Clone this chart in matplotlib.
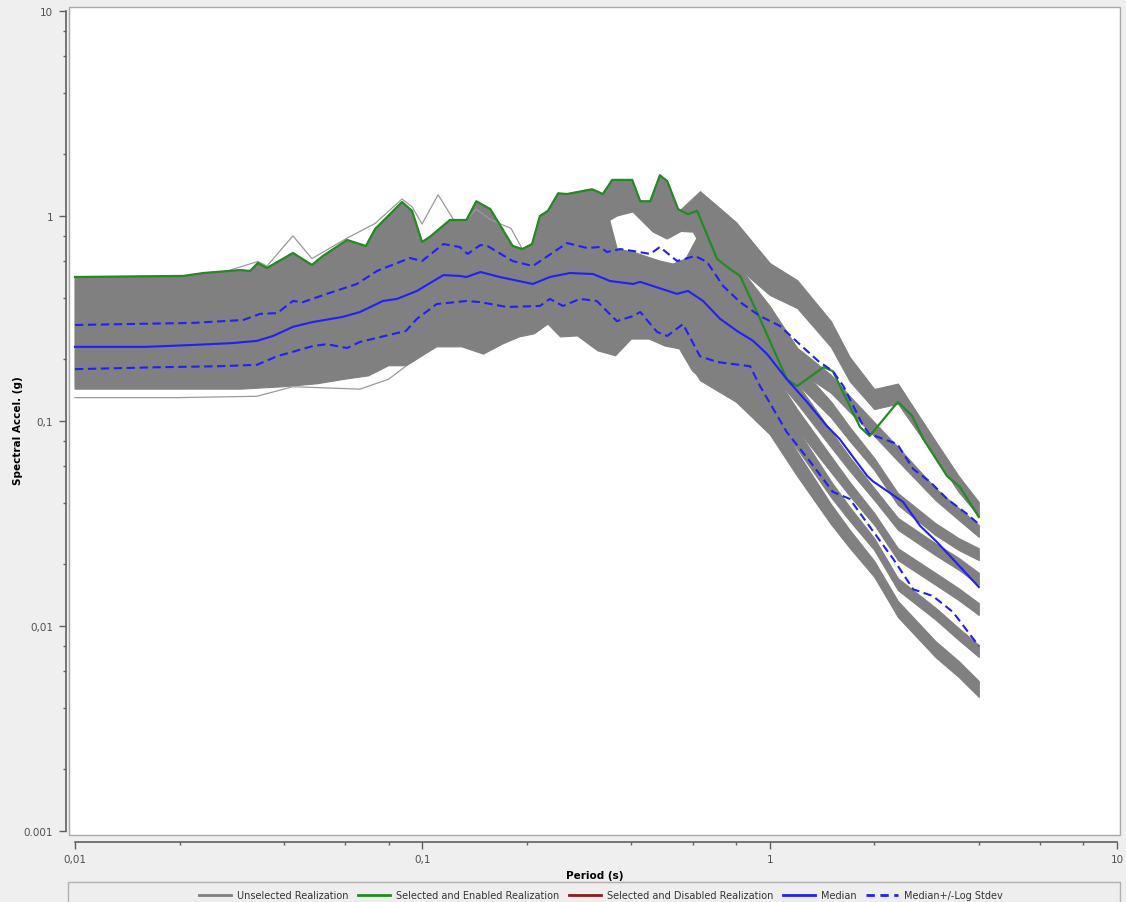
import numpy as np
import matplotlib
matplotlib.use('Agg')
import matplotlib.pyplot as plt
from matplotlib.patches import Rectangle
from matplotlib.lines import Line2D
from matplotlib.ticker import FixedLocator, FixedFormatter, NullFormatter

plt.rcParams['font.family'] = ['DejaVu Sans']

# --- selected realization (green) ---
green_T = [0.01, 0.0205, 0.0234, 0.0299, 0.0319, 0.0336, 0.0357, 0.0424, 0.0481, 0.0517,
           0.0607, 0.0688, 0.0731, 0.0874, 0.0934, 0.0998, 0.105, 0.120, 0.134, 0.143,
           0.157, 0.182, 0.194, 0.207, 0.218, 0.230, 0.246, 0.261, 0.308, 0.331,
           0.352, 0.402, 0.424, 0.453, 0.483, 0.507, 0.545, 0.582, 0.618, 0.706,
           0.769, 0.822, 0.938, 1.12, 1.20, 1.43, 1.52, 1.82, 1.94, 2.34,
           2.57, 2.77, 3.24, 3.53, 4.0]
green_SA = [0.504, 0.510, 0.527, 0.545, 0.539, 0.590, 0.558, 0.660, 0.577, 0.638,
            0.764, 0.714, 0.864, 1.17, 1.06, 0.747, 0.790, 0.956, 0.956, 1.18,
            1.08, 0.714, 0.690, 0.730, 1.0, 1.06, 1.29, 1.28, 1.35, 1.28,
            1.50, 1.50, 1.18, 1.18, 1.58, 1.48, 1.08, 1.02, 1.06, 0.617,
            0.551, 0.510, 0.315, 0.160, 0.148, 0.183, 0.175, 0.0935, 0.0845, 0.124,
            0.106, 0.0816, 0.0539, 0.0477, 0.0340]

# --- median ---
med_T = [0.01, 0.0161, 0.0219, 0.0285, 0.0334, 0.0372, 0.0424, 0.0484, 0.0590, 0.0661,
         0.0770, 0.0845, 0.0965, 0.115, 0.128, 0.134, 0.147, 0.167, 0.208, 0.233,
         0.266, 0.310, 0.347, 0.404, 0.424, 0.541, 0.582, 0.643, 0.720, 0.805,
         0.896, 0.983, 1.12, 1.28, 1.46, 1.59, 1.91, 1.98, 2.42, 2.71,
         3.03, 3.31, 4.0]
med_SA = [0.230, 0.230, 0.235, 0.240, 0.246, 0.260, 0.288, 0.304, 0.322, 0.340,
          0.385, 0.394, 0.431, 0.515, 0.510, 0.504, 0.533, 0.504, 0.466, 0.504,
          0.527, 0.521, 0.482, 0.466, 0.477, 0.417, 0.431, 0.385, 0.315, 0.275,
          0.246, 0.212, 0.160, 0.124, 0.0947, 0.0817, 0.0539, 0.0509, 0.0403, 0.0308,
          0.0257, 0.0219, 0.0155]

# --- median + log stdev ---
up_T = [0.01, 0.0219, 0.0305, 0.0341, 0.0382, 0.0424, 0.0453, 0.0531, 0.0648, 0.0740,
        0.0921, 0.0998, 0.115, 0.128, 0.135, 0.147, 0.154, 0.182, 0.208, 0.261,
        0.298, 0.325, 0.340, 0.371, 0.404, 0.453, 0.483, 0.541, 0.610, 0.660,
        0.734, 0.822, 0.938, 1.07, 1.20, 1.38, 1.52, 1.63, 1.86, 1.94,
        2.33, 2.59, 2.90, 3.24, 3.70, 4.0]
up_SA = [0.294, 0.301, 0.311, 0.333, 0.336, 0.385, 0.380, 0.417, 0.466, 0.539,
         0.624, 0.603, 0.730, 0.706, 0.653, 0.722, 0.714, 0.603, 0.570, 0.738,
         0.698, 0.706, 0.667, 0.690, 0.675, 0.653, 0.706, 0.603, 0.638, 0.597,
         0.456, 0.380, 0.325, 0.291, 0.243, 0.196, 0.175, 0.148, 0.0946, 0.0864,
         0.0772, 0.0583, 0.0504, 0.0417, 0.0352, 0.0314]

# --- median - log stdev ---
lo_T = [0.01, 0.0176, 0.0261, 0.0334, 0.0382, 0.0484, 0.0531, 0.0607, 0.0661, 0.0897,
        0.0965, 0.110, 0.134, 0.147, 0.175, 0.218, 0.233, 0.254, 0.284, 0.318,
        0.363, 0.404, 0.424, 0.474, 0.507, 0.563, 0.630, 0.706, 0.878, 0.938,
        1.12, 1.31, 1.52, 1.70, 1.99, 2.27, 2.59, 2.95, 3.37, 4.0]
lo_SA = [0.179, 0.183, 0.185, 0.188, 0.207, 0.232, 0.237, 0.227, 0.243, 0.275,
         0.315, 0.372, 0.385, 0.380, 0.360, 0.364, 0.394, 0.364, 0.394, 0.385,
         0.307, 0.325, 0.340, 0.272, 0.260, 0.297, 0.207, 0.194, 0.185, 0.148,
         0.0883, 0.0631, 0.0451, 0.0417, 0.0288, 0.0212, 0.0151, 0.0140, 0.0117, 0.00798]

# --- unselected realizations: main cloud lower edge ---
band_T = [0.01, 0.02, 0.03, 0.04, 0.05, 0.06, 0.07, 0.08, 0.09, 0.1,
          0.11, 0.13, 0.15, 0.17, 0.19, 0.21, 0.23, 0.25, 0.28, 0.32,
          0.36, 0.4, 0.45, 0.5, 0.55, 0.6, 0.65, 0.7, 0.75, 0.8]
band_lo = [0.143, 0.143, 0.143, 0.147, 0.152, 0.160, 0.166, 0.186, 0.186, 0.208,
           0.230, 0.230, 0.212, 0.237, 0.257, 0.266, 0.297, 0.257, 0.260, 0.220,
           0.208, 0.251, 0.251, 0.232, 0.225, 0.175, 0.157, 0.145, 0.145, 0.145]

# gap between the upper and the middle group of realizations (0.33-0.8 s)
gap_lo_T = [0.364, 0.404, 0.483, 0.527, 0.602, 0.706, 0.785]
gap_lo_SA = [0.690, 0.667, 0.603, 0.583, 0.638, 0.551, 0.476]
gap_hi_T = [0.325, 0.364, 0.404, 0.462, 0.507, 0.552, 0.589, 0.630, 0.706]
gap_hi_SA = [0.894, 1.0, 1.046, 0.835, 0.772, 0.835, 0.894, 0.730, 0.690]

# long-period bundles of realizations: centre and half spread (decades)
bundle_T = [0.55, 0.63, 0.80, 1.0, 1.2, 1.5, 1.7, 2.0, 2.34, 3.0, 3.5, 4.0]
bundle_1 = [0.950, 1.05, 0.730, 0.493, 0.416, 0.266, 0.179, 0.128, 0.136, 0.073, 0.0493, 0.0372]
bundle_2 = [0.500, 0.690, 0.493, 0.315, 0.201, 0.152, 0.121, 0.0914, 0.069, 0.044, 0.0352, 0.0291]
bundle_3 = [0.420, 0.440, 0.352, 0.251, 0.170, 0.114, 0.0864, 0.0617, 0.0416, 0.0297, 0.0251, 0.0224]
bundle_4 = [0.370, 0.352, 0.281, 0.201, 0.136, 0.0817, 0.0617, 0.044, 0.0315, 0.0237, 0.0201, 0.017]
bundle_5 = [0.320, 0.281, 0.225, 0.160, 0.102, 0.0617, 0.0466, 0.0333, 0.0224, 0.017, 0.0143, 0.0121]
bundle_6 = [0.280, 0.225, 0.179, 0.128, 0.0817, 0.0466, 0.0352, 0.0251, 0.016, 0.0115, 0.00914, 0.00755]
bundle_7 = [0.250, 0.190, 0.152, 0.102, 0.0617, 0.0352, 0.0266, 0.019, 0.0121, 0.00772, 0.00617, 0.00493]
spread_1 = [0.050, 0.100, 0.107, 0.078, 0.068, 0.063, 0.059, 0.049, 0.049, 0.039, 0.039, 0.034]
spread_2 = [0.040, 0.088, 0.078, 0.063, 0.054, 0.044, 0.039, 0.034, 0.034, 0.029, 0.029, 0.029]
spread_3 = [0.040, 0.078, 0.073, 0.059, 0.049, 0.039, 0.034, 0.029, 0.029, 0.029, 0.029, 0.029]
spread_7 = [0.040, 0.080, 0.088, 0.073, 0.059, 0.049, 0.044, 0.039, 0.039, 0.039, 0.039, 0.039]
bundles = [(bundle_1, spread_1), (bundle_2, spread_2), (bundle_3, spread_3),
           (bundle_4, spread_3), (bundle_5, spread_3), (bundle_6, spread_3),
           (bundle_7, spread_7)]

# a few stray realizations outside the cloud
stray_hi_T = [0.028, 0.0336, 0.0357, 0.0424, 0.0481, 0.0607, 0.0731, 0.0874, 0.0934, 0.0998,
              0.111, 0.123, 0.134, 0.143, 0.157, 0.180, 0.194, 0.207, 0.218]
stray_hi_SA = [0.545, 0.600, 0.570, 0.800, 0.620, 0.780, 0.920, 1.21, 1.11, 0.914,
               1.27, 0.960, 0.960, 1.08, 0.960, 0.870, 0.690, 0.730, 0.990]
stray_lo_T = [0.01, 0.0196, 0.0334, 0.0424, 0.0661, 0.0800, 0.0900]
stray_lo_SA = [0.130, 0.130, 0.132, 0.147, 0.143, 0.160, 0.186]

# axis text
x_ticks = [0.01, 0.1, 1, 10]
x_tick_labels = ['0,01', '0,1', '1', '10']
y_ticks = [0.001, 0.01, 0.1, 1, 10]
y_tick_labels = ['0.001', '0,01', '0,1', '1', '10']
legend_labels = ['Unselected Realization', 'Selected and Enabled Realization',
                 'Selected and Disabled Realization', 'Median', 'Median+/-Log Stdev']

GRAY = '#808080'
GREEN = '#228B22'
BLUE = '#1f1fff'
RED = '#8b1c1c'

fig = plt.figure(figsize=(11.26, 9.03), dpi=100)
fig.patch.set_facecolor('#efefef')
ax = fig.add_axes([69 / 1126, 67 / 903, 1051 / 1126, 828 / 903])
ax.set_xscale('log')
ax.set_yscale('log')
ax.set_xlim(0.00961, 10.2)
ax.set_ylim(0.000956, 10.46)
ax.set_facecolor('white')
ax.patch.set_edgecolor('#a8a8a8')
ax.patch.set_linewidth(1.0)

# gray realization cloud
core_x = green_T[:30] + gap_lo_T + band_T[::-1]
core_y = green_SA[:30] + gap_lo_SA + band_lo[::-1]
ax.fill(core_x, core_y, color=GRAY, lw=0.8, zorder=1)
upper_x = green_T[29:40] + gap_hi_T[::-1]
upper_y = green_SA[29:40] + gap_hi_SA[::-1]
ax.fill(upper_x, upper_y, color=GRAY, lw=0.8, zorder=1)
for centre, spread in bundles:
    c = np.array(centre)
    s = 10.0 ** np.array(spread)
    ax.fill_between(bundle_T, c / s, c * s, color=GRAY, lw=0.8, zorder=1)
ax.plot(stray_hi_T, stray_hi_SA, color='#9a9a9a', lw=0.9, zorder=1)
ax.plot(stray_lo_T, stray_lo_SA, color='#9a9a9a', lw=0.9, zorder=1)

ax.plot(green_T, green_SA, color=GREEN, lw=1.6, zorder=3)
ax.plot(med_T, med_SA, color=BLUE, lw=1.5, zorder=4)
ax.plot(up_T, up_SA, color=BLUE, lw=1.5, dashes=(4, 2.2), zorder=4)
ax.plot(lo_T, lo_SA, color=BLUE, lw=1.5, dashes=(4, 2.2), zorder=4)

# axes styling
for s in ['top', 'right']:
    ax.spines[s].set_visible(False)
ax.spines['left'].set_position(('outward', 2.5))
ax.spines['bottom'].set_position(('outward', 5))
ax.spines['left'].set_bounds(0.001, 10)
ax.spines['bottom'].set_bounds(0.01, 10)
for s in ['left', 'bottom']:
    ax.spines[s].set_color('#606060')
    ax.spines[s].set_linewidth(1.2)

minor_x = [m * 10.0 ** e for e in range(-2, 1) for m in (2, 4, 6, 8)]
minor_y = [m * 10.0 ** e for e in range(-3, 1) for m in (2, 4, 6, 8)]
ax.xaxis.set_major_locator(FixedLocator(x_ticks))
ax.xaxis.set_major_formatter(FixedFormatter(x_tick_labels))
ax.xaxis.set_minor_locator(FixedLocator(minor_x))
ax.xaxis.set_minor_formatter(NullFormatter())
ax.yaxis.set_major_locator(FixedLocator(y_ticks))
ax.yaxis.set_major_formatter(FixedFormatter(y_tick_labels))
ax.yaxis.set_minor_locator(FixedLocator(minor_y))
ax.yaxis.set_minor_formatter(NullFormatter())
ax.tick_params(which='major', length=5, width=1, color='#606060', labelsize=7.5,
               labelcolor='#505050', pad=4)
ax.tick_params(which='minor', length=2.5, width=1, color='#606060')

ax.set_xlabel('Period (s)', fontsize=7.5, fontweight='bold', labelpad=4)
ax.set_ylabel('Spectral Accel. (g)', fontsize=7.5, fontweight='bold')
ax.yaxis.set_label_coords(-0.044, 0.49)

# legend strip
fig.patches.append(Rectangle((68 / 1126, -0.01), 1052 / 1126, (903 - 883) / 903 + 0.01,
                             transform=fig.transFigure, facecolor='#eeeeee',
                             edgecolor='#b0b0b0', lw=1.0, zorder=0))
handles = [Line2D([], [], color=GRAY, lw=2),
           Line2D([], [], color=GREEN, lw=2),
           Line2D([], [], color=RED, lw=2),
           Line2D([], [], color=BLUE, lw=2),
           Line2D([], [], color=BLUE, lw=2, dashes=(3, 2))]
fig.legend(handles, legend_labels, loc='center', bbox_to_anchor=(601 / 1126, 1 - 896 / 903),
           ncol=5, frameon=False, fontsize=7, handlelength=3.3, columnspacing=1.0,
           handletextpad=0.6, labelcolor='#333333')

fig.savefig('out.png', dpi=100, facecolor=fig.get_facecolor())
